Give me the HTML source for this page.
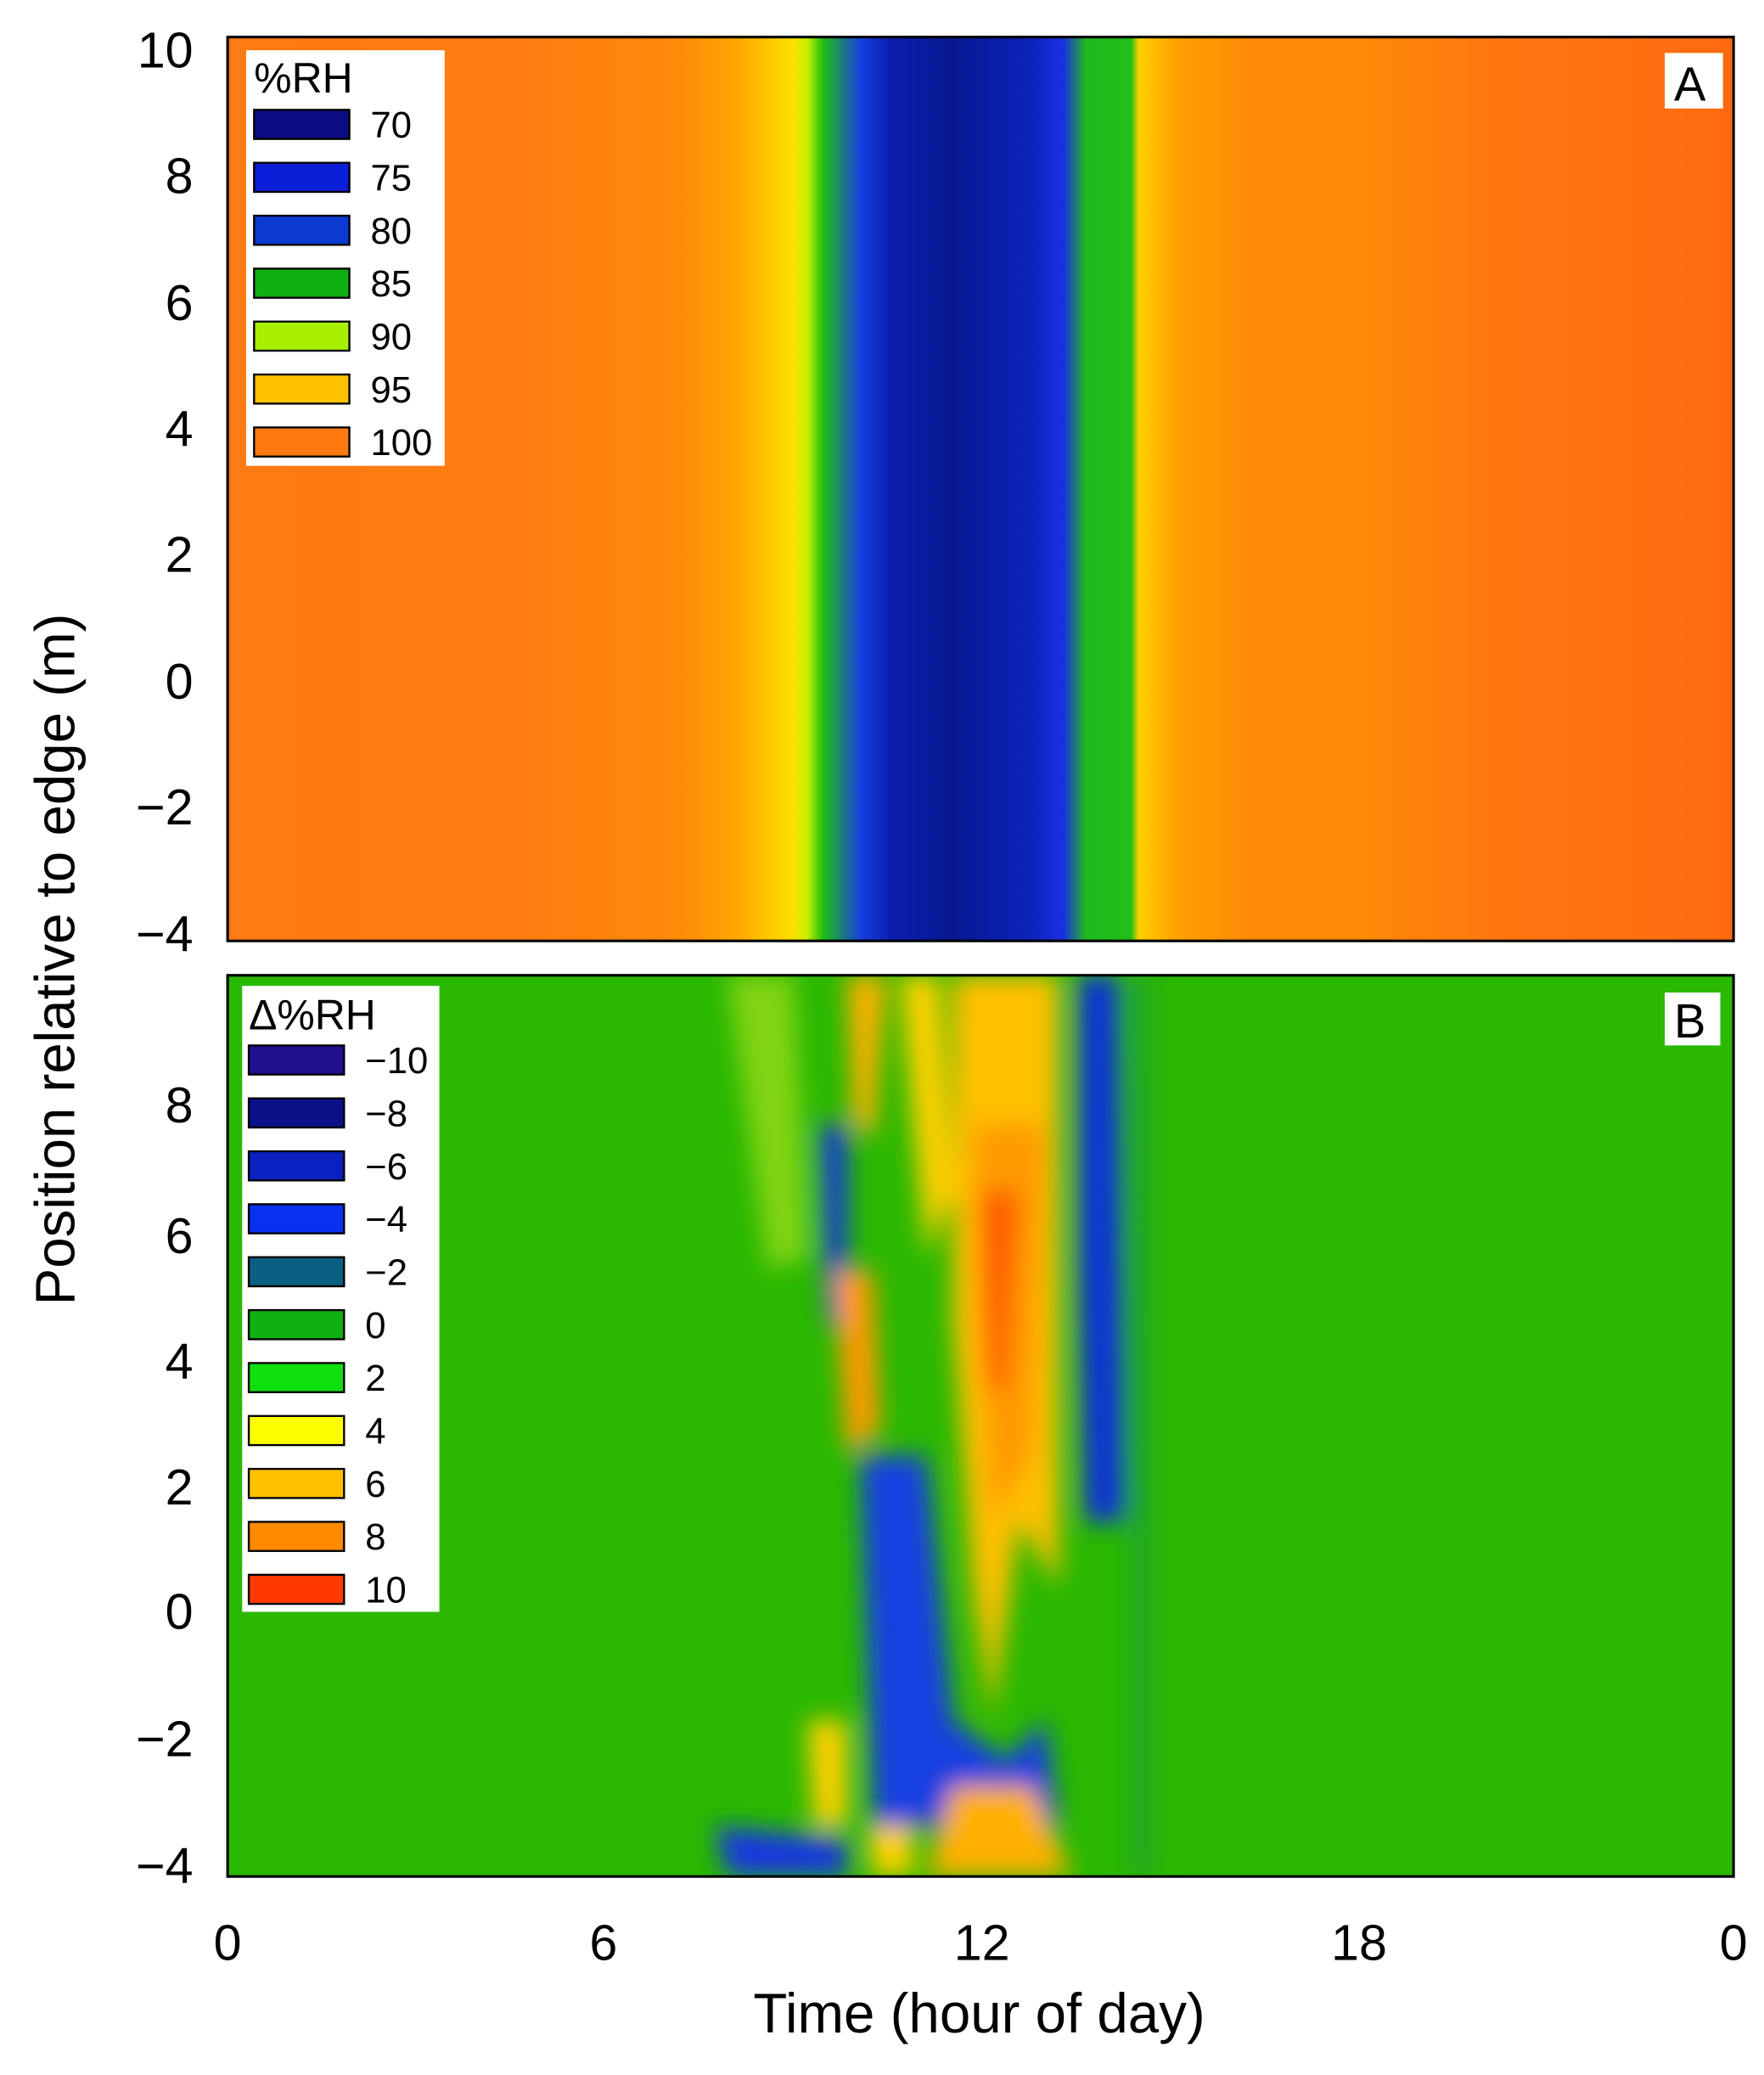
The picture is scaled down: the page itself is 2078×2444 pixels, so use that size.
<!DOCTYPE html>
<html><head><meta charset="utf-8"><style>
html,body{margin:0;padding:0;background:#fff}
svg{display:block}
text{font-family:"Liberation Sans",sans-serif;fill:#000}
</style></head><body>
<svg width="2078" height="2444" viewBox="0 0 1333 1568" preserveAspectRatio="none" xmlns="http://www.w3.org/2000/svg">
<defs>
<linearGradient id="ga" x1="0" x2="1" y1="0" y2="0">
<stop offset="0" stop-color="#ff7a12"/>
<stop offset="0.2" stop-color="#ff7d10"/>
<stop offset="0.3" stop-color="#ff8a0a"/>
<stop offset="0.34" stop-color="#ffa800"/>
<stop offset="0.375" stop-color="#ffe000"/>
<stop offset="0.385" stop-color="#c8f000"/>
<stop offset="0.395" stop-color="#20c010"/>
<stop offset="0.42" stop-color="#1840e0"/>
<stop offset="0.44" stop-color="#0a1eb0"/>
<stop offset="0.48" stop-color="#081890"/>
<stop offset="0.53" stop-color="#0a22b8"/>
<stop offset="0.555" stop-color="#1a30e0"/>
<stop offset="0.57" stop-color="#20b820"/>
<stop offset="0.6" stop-color="#20c018"/>
<stop offset="0.605" stop-color="#ffd000"/>
<stop offset="0.63" stop-color="#ffa000"/>
<stop offset="0.68" stop-color="#ff8a08"/>
<stop offset="0.75" stop-color="#ff8a08"/>
<stop offset="0.85" stop-color="#ff7610"/>
<stop offset="1" stop-color="#ff6a10"/>
</linearGradient>
<filter id="bl"><feGaussianBlur stdDeviation="9"/></filter>
<clipPath id="cb"><rect x="172" y="737" width="1138" height="681"/></clipPath>
</defs>
<rect x="172" y="28" width="1138" height="683" fill="url(#ga)"/>
<rect x="172" y="737" width="1138" height="681" fill="#2ab800"/>
<g clip-path="url(#cb)" filter="url(#bl)">
<polygon points="550,737 600,737 610,950 580,960" fill="#a8e020" opacity="0.7"/>
<polygon points="620,850 640,850 640,1000 625,1000" fill="#1838e0"/>
<polygon points="640,737 670,737 660,860 645,850" fill="#ffb000"/>
<polygon points="630,960 660,960 665,1080 640,1100" fill="#ff9a00"/>
<polygon points="680,737 710,737 720,900 700,950 690,850" fill="#ffd000"/>
<polygon points="720,737 800,737 800,1200 770,1150 750,1300 735,1200 720,1000" fill="#ffc000"/>
<polygon points="735,850 790,850 780,1100 750,1150 740,1000" fill="#ff9a00"/>
<polygon points="740,900 770,900 760,1050 745,1050" fill="#ff5a00"/>
<polygon points="650,1100 700,1100 720,1300 760,1330 790,1300 800,1380 660,1380" fill="#1840e0"/>
<polygon points="815,737 845,737 850,1150 820,1150 815,950" fill="#1030d8"/>
<polygon points="610,1300 640,1300 640,1380 615,1380" fill="#ffd000"/>
<polygon points="720,1350 780,1350 810,1418 700,1418" fill="#ffb000"/>
<polygon points="540,1380 640,1390 640,1418 550,1418" fill="#1838e0"/>
<polygon points="655,1380 690,1380 690,1418 660,1418" fill="#ffd000"/>
<polygon points="855,737 870,737 870,1418 855,1418" fill="#1a9a40" opacity="0.7"/>
</g>
<rect x="172" y="28" width="1138" height="683" fill="none" stroke="#000" stroke-width="2"/>
<rect x="172" y="737" width="1138" height="681" fill="none" stroke="#000" stroke-width="2"/>
<rect x="186" y="38" width="150" height="314" fill="#fff"/>
<text x="192" y="70" font-size="32">%RH</text>
<g stroke="#000" stroke-width="1.5">
<rect x="192" y="83" width="72" height="22" fill="#0c0c80"/>
<rect x="192" y="123" width="72" height="22" fill="#0a1ed8"/>
<rect x="192" y="163" width="72" height="22" fill="#0a3ad0"/>
<rect x="192" y="203" width="72" height="22" fill="#10b010"/>
<rect x="192" y="243" width="72" height="22" fill="#a8ee00"/>
<rect x="192" y="283" width="72" height="22" fill="#ffc000"/>
<rect x="192" y="323" width="72" height="22" fill="#ff7a10"/>
</g>
<g font-size="28">
<text x="280" y="104">70</text><text x="280" y="144">75</text><text x="280" y="184">80</text>
<text x="280" y="224">85</text><text x="280" y="264">90</text><text x="280" y="304">95</text><text x="280" y="344">100</text>
</g>
<rect x="1258" y="40" width="44" height="42" fill="#fff"/>
<text x="1265" y="76" font-size="36">A</text>
<rect x="183" y="745" width="149" height="473" fill="#fff"/>
<text x="188" y="778" font-size="32">Δ%RH</text>
<g stroke="#000" stroke-width="1.5">
<rect x="188" y="790" width="72" height="22" fill="#201090"/>
<rect x="188" y="830" width="72" height="22" fill="#0a1088"/>
<rect x="188" y="870" width="72" height="22" fill="#0a20c0"/>
<rect x="188" y="910" width="72" height="22" fill="#0a30f0"/>
<rect x="188" y="950" width="72" height="22" fill="#0a6080"/>
<rect x="188" y="990" width="72" height="22" fill="#10b010"/>
<rect x="188" y="1030" width="72" height="22" fill="#10e010"/>
<rect x="188" y="1070" width="72" height="22" fill="#ffff00"/>
<rect x="188" y="1110" width="72" height="22" fill="#ffc000"/>
<rect x="188" y="1150" width="72" height="22" fill="#ff8a00"/>
<rect x="188" y="1190" width="72" height="22" fill="#ff3a00"/>
</g>
<g font-size="28">
<text x="276" y="811">−10</text><text x="276" y="851">−8</text><text x="276" y="891">−6</text>
<text x="276" y="931">−4</text><text x="276" y="971">−2</text><text x="276" y="1011">0</text>
<text x="276" y="1051">2</text><text x="276" y="1091">4</text><text x="276" y="1131">6</text>
<text x="276" y="1171">8</text><text x="276" y="1211">10</text>
</g>
<rect x="1258" y="750" width="42" height="40" fill="#fff"/>
<text x="1265" y="784" font-size="36">B</text>
<g font-size="38" text-anchor="end">
<text x="146" y="51">10</text><text x="146" y="146">8</text><text x="146" y="242">6</text>
<text x="146" y="337">4</text><text x="146" y="432">2</text><text x="146" y="528">0</text>
<text x="146" y="623">−2</text><text x="146" y="719">−4</text>
<text x="146" y="848">8</text><text x="146" y="947">6</text><text x="146" y="1042">4</text>
<text x="146" y="1137">2</text><text x="146" y="1231">0</text><text x="146" y="1327">−2</text><text x="146" y="1423">−4</text>
</g>
<g font-size="38" text-anchor="middle">
<text x="172" y="1481">0</text><text x="456" y="1481">6</text><text x="742" y="1481">12</text>
<text x="1027" y="1481">18</text><text x="1310" y="1481">0</text>
</g>
<text x="740" y="1536" font-size="42" text-anchor="middle">Time (hour of day)</text>
<text transform="translate(56,725) rotate(-90)" font-size="42" text-anchor="middle">Position relative to edge (m)</text>
</svg>
</body></html>
